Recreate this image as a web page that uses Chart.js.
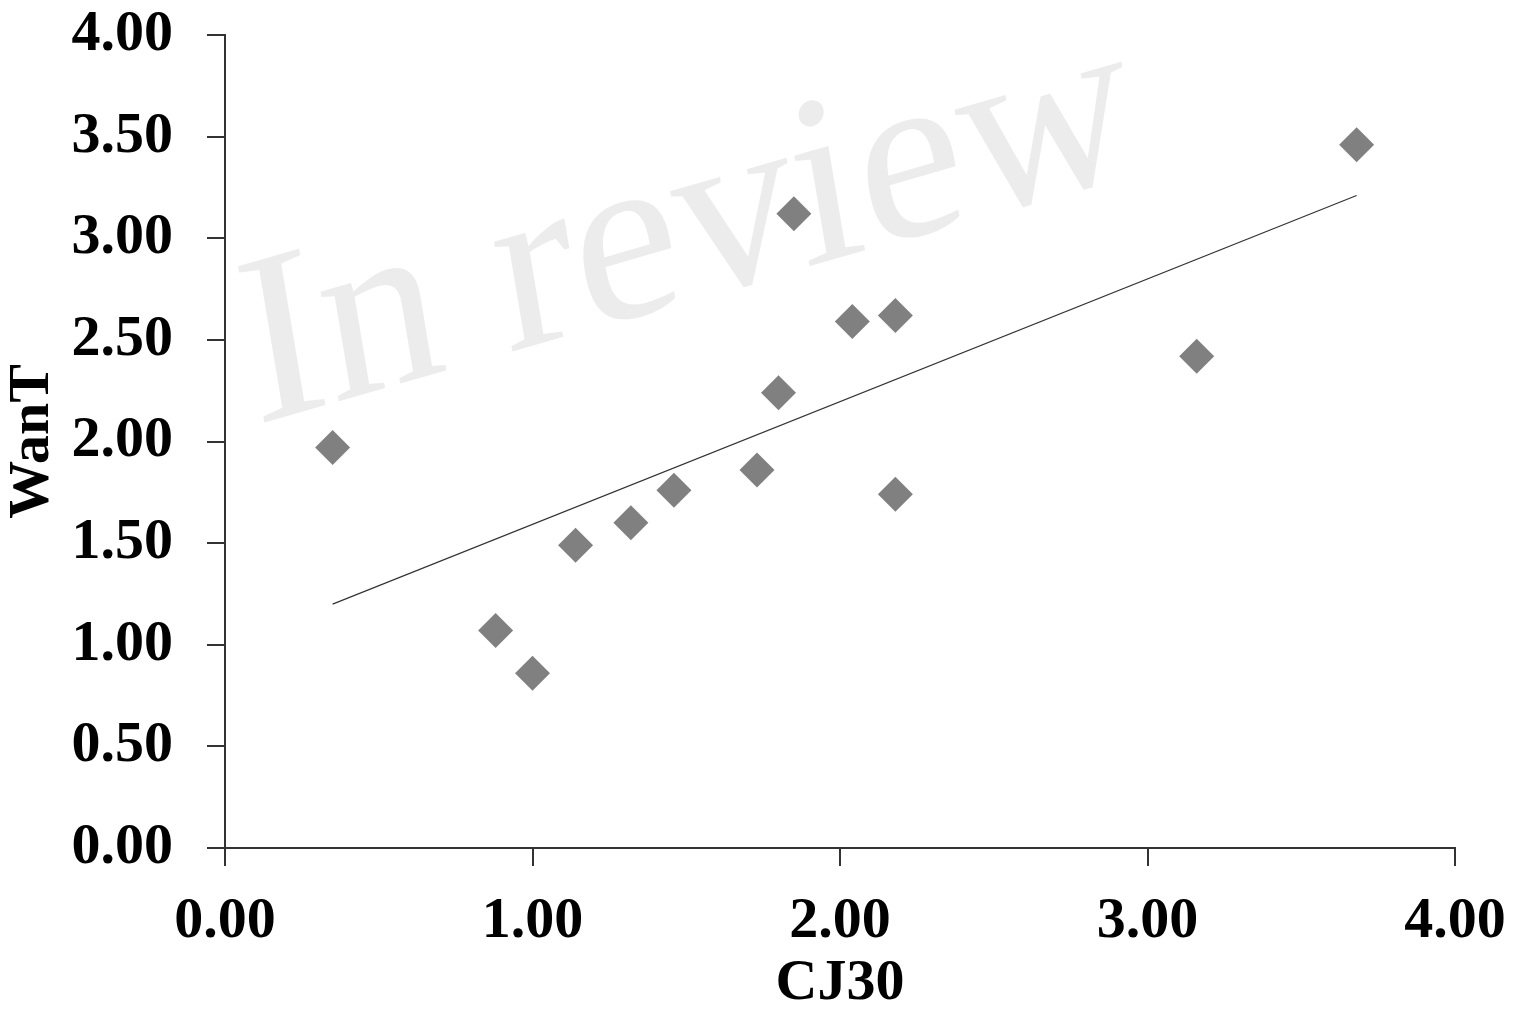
<!DOCTYPE html>
<html>
<head>
<meta charset="utf-8">
<script src="https://cdn.jsdelivr.net/npm/chart.js@4"></script>
<style>
  html, body { margin:0; padding:0; background:#fff; }
  #wrap { width:1531px; height:1013px; }
</style>
</head>
<body>
<div id="wrap"><canvas id="scatter"></canvas></div>
<script>
// values
const cj30 = [0.35, 0.88, 1.00, 1.14, 1.32, 1.46, 1.73, 1.80, 1.85, 2.04, 2.18, 2.18, 3.16, 3.68];
const wanT = [1.97, 1.07, 0.86, 1.49, 1.60, 1.76, 1.86, 2.24, 3.12, 2.59, 2.62, 1.74, 2.42, 3.46];
const trendX = [0.35, 3.68];
const trendY = [1.20, 3.21];
const axisTicks = [0, 0.5, 1, 1.5, 2, 2.5, 3, 3.5, 4];

const points = cj30.map((x, i) => ({x: x, y: wanT[i]}));
const trend = trendX.map((x, i) => ({x: x, y: trendY[i]}));

const labelFont = {family:"'Liberation Serif', 'Times New Roman', serif", size:58, weight:"bold", lineHeight:1};

// faint "In review" stamp, drawn under the marks
const watermark = {
  id: "watermark",
  beforeDatasetsDraw(chart){
    const ctx = chart.ctx;
    ctx.save();
    ctx.transform(0.961, -0.276, 0.165, 0.986, 256, 425);
    ctx.font = "242px 'Liberation Serif', serif";
    ctx.fillStyle = "#ececec";
    ctx.textBaseline = "alphabetic";
    ctx.fillText("In review", 0, 0);
    ctx.restore();
  }
};

new Chart(document.getElementById("scatter"), {
  type: "scatter",
  data: {
    datasets: [
      {
        label: "WanT",
        data: points,
        pointStyle: "rectRot",
        pointRadius: 17.5,
        pointHoverRadius: 17.5,
        backgroundColor: "#808080",
        borderColor: "#808080",
        borderWidth: 0
      },
      {
        type: "line",
        label: "trend",
        data: trend,
        borderColor: "#333333",
        borderWidth: 1.2,
        pointRadius: 0,
        fill: false
      }
    ]
  },
  options: {
    responsive: true,
    maintainAspectRatio: false,
    animation: false,
    layout: {padding: {top:35, right:76, bottom:0, left:0}},
    plugins: {legend: {display:false}, tooltip: {enabled:false}},
    scales: {
      x: {
        type: "linear",
        min: 0, max: 4,
        afterBuildTicks: s => { s.ticks = [0,1,2,3,4].map(v => ({value:v})); },
        afterFit: s => { s.height = 165; s.paddingLeft = 0; s.paddingRight = 0; },
        ticks: {
          color: "#000",
          font: labelFont,
          padding: 27,
          maxRotation: 0,
          callback: v => Number(v).toFixed(2)
        },
        grid: {drawOnChartArea:false, drawTicks:true, tickLength:18, color:"#333333", lineWidth:2},
        border: {color:"#333333", width:2},
        title: {display:true, text:"CJ30", color:"#000", font:labelFont, padding:{top:0, bottom:0}}
      },
      y: {
        type: "linear",
        min: 0, max: 4,
        afterBuildTicks: s => { s.ticks = axisTicks.map(v => ({value:v})); },
        afterFit: s => { s.width = 225; s.paddingTop = 0; s.paddingBottom = 0; },
        ticks: {
          color: "#000",
          font: labelFont,
          padding: 34,
          callback: v => Number(v).toFixed(2)
        },
        grid: {drawOnChartArea:false, drawTicks:true, tickLength:18, color:"#333333", lineWidth:2},
        border: {color:"#333333", width:2},
        title: {display:true, text:"WanT", color:"#000", font:labelFont, padding:{top:4, bottom:0}}
      }
    }
  },
  plugins: [watermark]
});
</script>
</body>
</html>
